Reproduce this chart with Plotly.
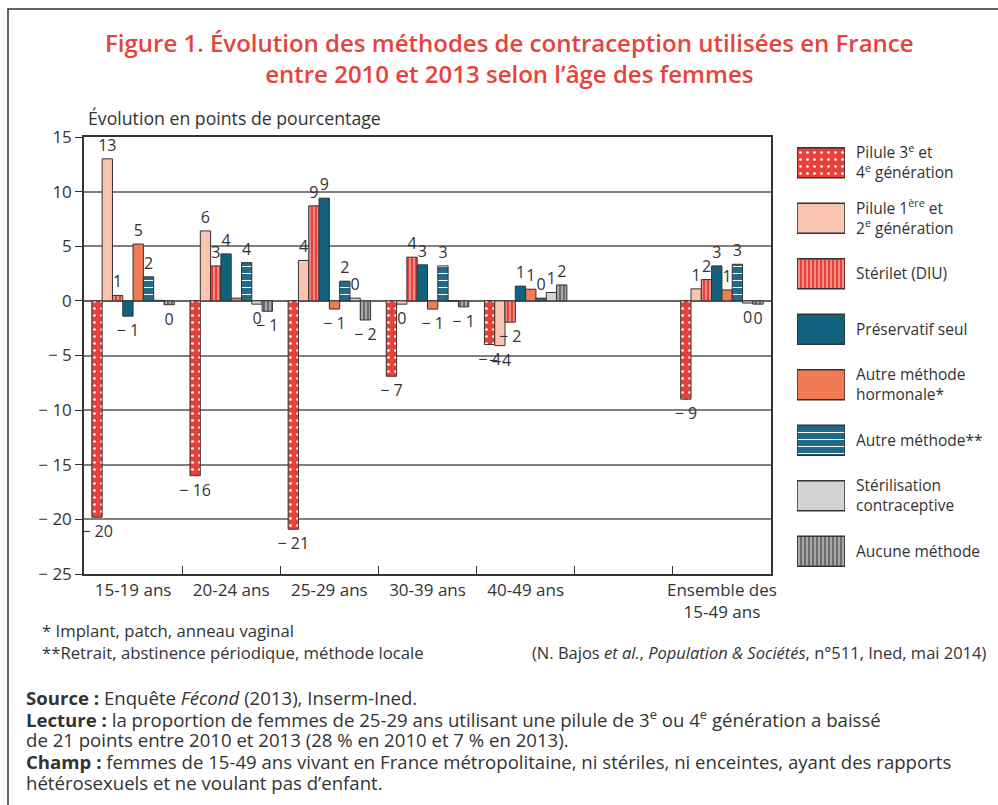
import plotly.graph_objects as go

W, H = 998, 805
FONT = "Open Sans"
TXT = "#333333"

categories = ["15-19 ans", "20-24 ans", "25-29 ans", "30-39 ans", "40-49 ans", " ",
              "Ensemble des<br>15-49 ans"]

series_names = [
    "Pilule 3<sup>e</sup> et<br>4<sup>e</sup> génération",
    "Pilule 1<sup>ère</sup> et<br>2<sup>e</sup> génération",
    "Stérilet (DIU)",
    "Préservatif seul",
    "Autre méthode<br>hormonale*",
    "Autre méthode**",
    "Stérilisation<br>contraceptive",
    "Aucune méthode",
]

pilule_34 = [-19.8, -16.0, -20.9, -6.9, -4.0, None, -9.0]
pilule_12 = [13.0, 6.4, 3.7, -0.3, -4.1, None, 1.1]
sterilet = [0.5, 3.2, 8.7, 4.0, -1.95, None, 1.95]
preservatif = [-1.4, 4.3, 9.4, 3.3, 1.35, None, 3.2]
autre_hormonale = [5.2, 0.25, -0.75, -0.75, 1.07, None, 1.0]
autre_methode = [2.2, 3.5, 1.8, 3.2, 0.25, None, 3.35]
sterilisation = [0.05, -0.3, 0.25, 0.0, 0.77, None, -0.2]
aucune = [-0.35, -0.95, -1.75, -0.55, 1.46, None, -0.3]

lab_pilule_34 = ["− 20", "− 16", "− 21", "− 7", "− 4", None, "− 9"]
lab_pilule_12 = ["13", "6", "4", "0", "− 4", None, "1"]
lab_sterilet = ["1", "3", "9", "4", "− 2", None, "2"]
lab_preservatif = ["− 1", "4", "9", "3", "1", None, "3"]
lab_autre_hormonale = ["5", None, "− 1", "− 1", "1", None, "1"]
lab_autre_methode = ["2", "4", "2", "3", "0", None, "3"]
lab_sterilisation = [None, "0", "0", None, "1", None, "0"]
lab_aucune = ["0", "− 1", "− 2", "− 1", "2", None, "0"]

y_tickvals = [15, 10, 5, 0, -5, -10, -15, -20, -25]
y_ticktext = ["15", "10", "5", "0", "− 5", "− 10", "− 15", "− 20", "− 25"]

values = [pilule_34, pilule_12, sterilet, preservatif, autre_hormonale,
          autre_methode, sterilisation, aucune]
labels = [lab_pilule_34, lab_pilule_12, lab_sterilet, lab_preservatif,
          lab_autre_hormonale, lab_autre_methode, lab_sterilisation, lab_aucune]

# styles: (bg colour, pattern shape, pattern fg colour, size, solidity)
styles = [
    ("#e8413a", ".", "#ffffff", 7, 0.12),
    ("#f9c5b1", "", None, 8, 0.3),
    ("#e8413a", "|", "#ffffff", 4, 0.2),
    ("#10627f", "", None, 8, 0.3),
    ("#f17b55", "", None, 8, 0.3),
    ("#226a88", "-", "#ffffff", 7, 0.14),
    ("#d2d3d5", "", None, 8, 0.3),
    ("#6c6d6f", "|", "#d0d0d0", 4, 0.3),
]


def make_pattern(st):
    bg, shp, fg, sz, sol = st
    return dict(shape=shp, bgcolor=bg, fgcolor=fg if fg else bg,
                size=sz, solidity=sol, fillmode="replace")


fig = go.Figure()

for name, vals, labs, st in zip(series_names, values, labels, styles):
    fig.add_trace(go.Bar(
        x=categories, y=vals, name=name, text=labs,
        textposition="outside", constraintext="none", cliponaxis=False,
        textfont=dict(family=FONT, size=16, color=TXT),
        marker=dict(color=st[0], pattern=make_pattern(st),
                    line=dict(color="#333333", width=1)),
        showlegend=False, xaxis="x", yaxis="y",
    ))

# legend drawn as a side panel of swatches: one bar per series, same slot
for name, st in zip(series_names, styles):
    fig.add_trace(go.Bar(
        x=[1], y=[name], orientation="h", offsetgroup="legend",
        marker=dict(color=st[0], pattern=make_pattern(st),
                    line=dict(color="#333333", width=1.5)),
        width=0.54, showlegend=False, hoverinfo="skip",
        xaxis="x2", yaxis="y2",
    ))


def px_x(p):
    return p / W


def px_y(p):
    return 1 - p / H


fig.update_layout(
    width=W, height=H, autosize=False,
    margin=dict(l=0, r=0, t=0, b=0, pad=0),
    paper_bgcolor="white", plot_bgcolor="white",
    barmode="group", bargap=0.16, bargroupgap=0,
    font=dict(family=FONT, size=16, color=TXT),
    xaxis=dict(
        domain=[px_x(84), px_x(771)], anchor="y", automargin=False,
        tickson="boundaries", ticks="inside", ticklen=8, tickcolor="#333333",
        tickangle=0,
        showline=True, linecolor="#333333", linewidth=1.5, mirror=True,
        tickfont=dict(family=FONT, size=17, color=TXT), showgrid=False,
    ),
    yaxis=dict(
        domain=[px_y(574), px_y(137)], anchor="x", automargin=False,
        range=[-25, 15], tickvals=y_tickvals, ticktext=y_ticktext,
        ticks="outside", ticklen=7, tickcolor="#333333",
        showline=True, linecolor="#333333", linewidth=1.5, mirror=True,
        showgrid=True, gridcolor="#808080", gridwidth=1.5,
        zeroline=True, zerolinecolor="#666666", zerolinewidth=1.5,
        tickfont=dict(family=FONT, size=17, color=TXT),
    ),
    xaxis2=dict(domain=[px_x(797), px_x(845)], anchor="y2", range=[0, 1],
                visible=False, fixedrange=True, automargin=False),
    yaxis2=dict(domain=[px_y(579), px_y(135)], anchor="x2", side="right",
                autorange="reversed", showline=False, showgrid=False,
                zeroline=False, ticks="", ticklabelstandoff=10, automargin=False,
                tickfont=dict(family=FONT, size=15.5, color=TXT)),
)

ann = []


def add_text(text, x, y, size, xanchor="left", yanchor="middle", **kw):
    ann.append(dict(text=text, x=px_x(x), y=px_y(y), xref="paper", yref="paper",
                    xanchor=xanchor, yanchor=yanchor, showarrow=False,
                    font=dict(family=FONT, size=size, color=kw.get("color", TXT),
                              weight=kw.get("weight", "normal")),
                    align=kw.get("align", "left")))


add_text("Figure 1. Évolution des méthodes de contraception utilisées en France"
         "<br>entre 2010 et 2013 selon l’âge des femmes",
         509, 58, 24, xanchor="center", color="#e8433b", weight=600, align="center")
add_text("Évolution en points de pourcentage", 86, 118, 17.7)
add_text("* Implant, patch, anneau vaginal", 40, 630, 16.7)
add_text("**Retrait, abstinence périodique, méthode locale", 40, 652, 16.7)
add_text("(N. Bajos <i>et al.</i>, <i>Population &amp; Sociétés</i>, n°511, Ined, mai 2014)",
         988, 652, 16.5, xanchor="right")

source_lines = [
    "<b>Source :</b> Enquête <i>Fécond</i> (2013), Inserm-Ined.",
    "<b>Lecture :</b> la proportion de femmes de 25-29 ans utilisant une pilule de "
    "3<sup>e</sup> ou 4<sup>e</sup> génération a baissé",
    "de 21 points entre 2010 et 2013 (28 % en 2010 et 7 % en 2013).",
    "<b>Champ :</b> femmes de 15-49 ans vivant en France métropolitaine, ni stériles, "
    "ni enceintes, ayant des rapports",
    "hétérosexuels et ne voulant pas d’enfant.",
]
source_y = [697, 718, 739, 761, 782]
for line, yy in zip(source_lines, source_y):
    add_text(line, 24, yy, 18.6)

fig.update_layout(annotations=ann)

fig.add_shape(type="rect", xref="paper", yref="paper",
              x0=px_x(8), x1=px_x(1010), y0=px_y(820), y1=px_y(9),
              line=dict(color="#333333", width=1.5), fillcolor="rgba(0,0,0,0)",
              layer="below")

fig.write_html(
    "out.html",
    config={"responsive": False, "displayModeBar": False},
    post_script="document.body.style.margin='0';document.body.style.overflow='hidden';",
)
